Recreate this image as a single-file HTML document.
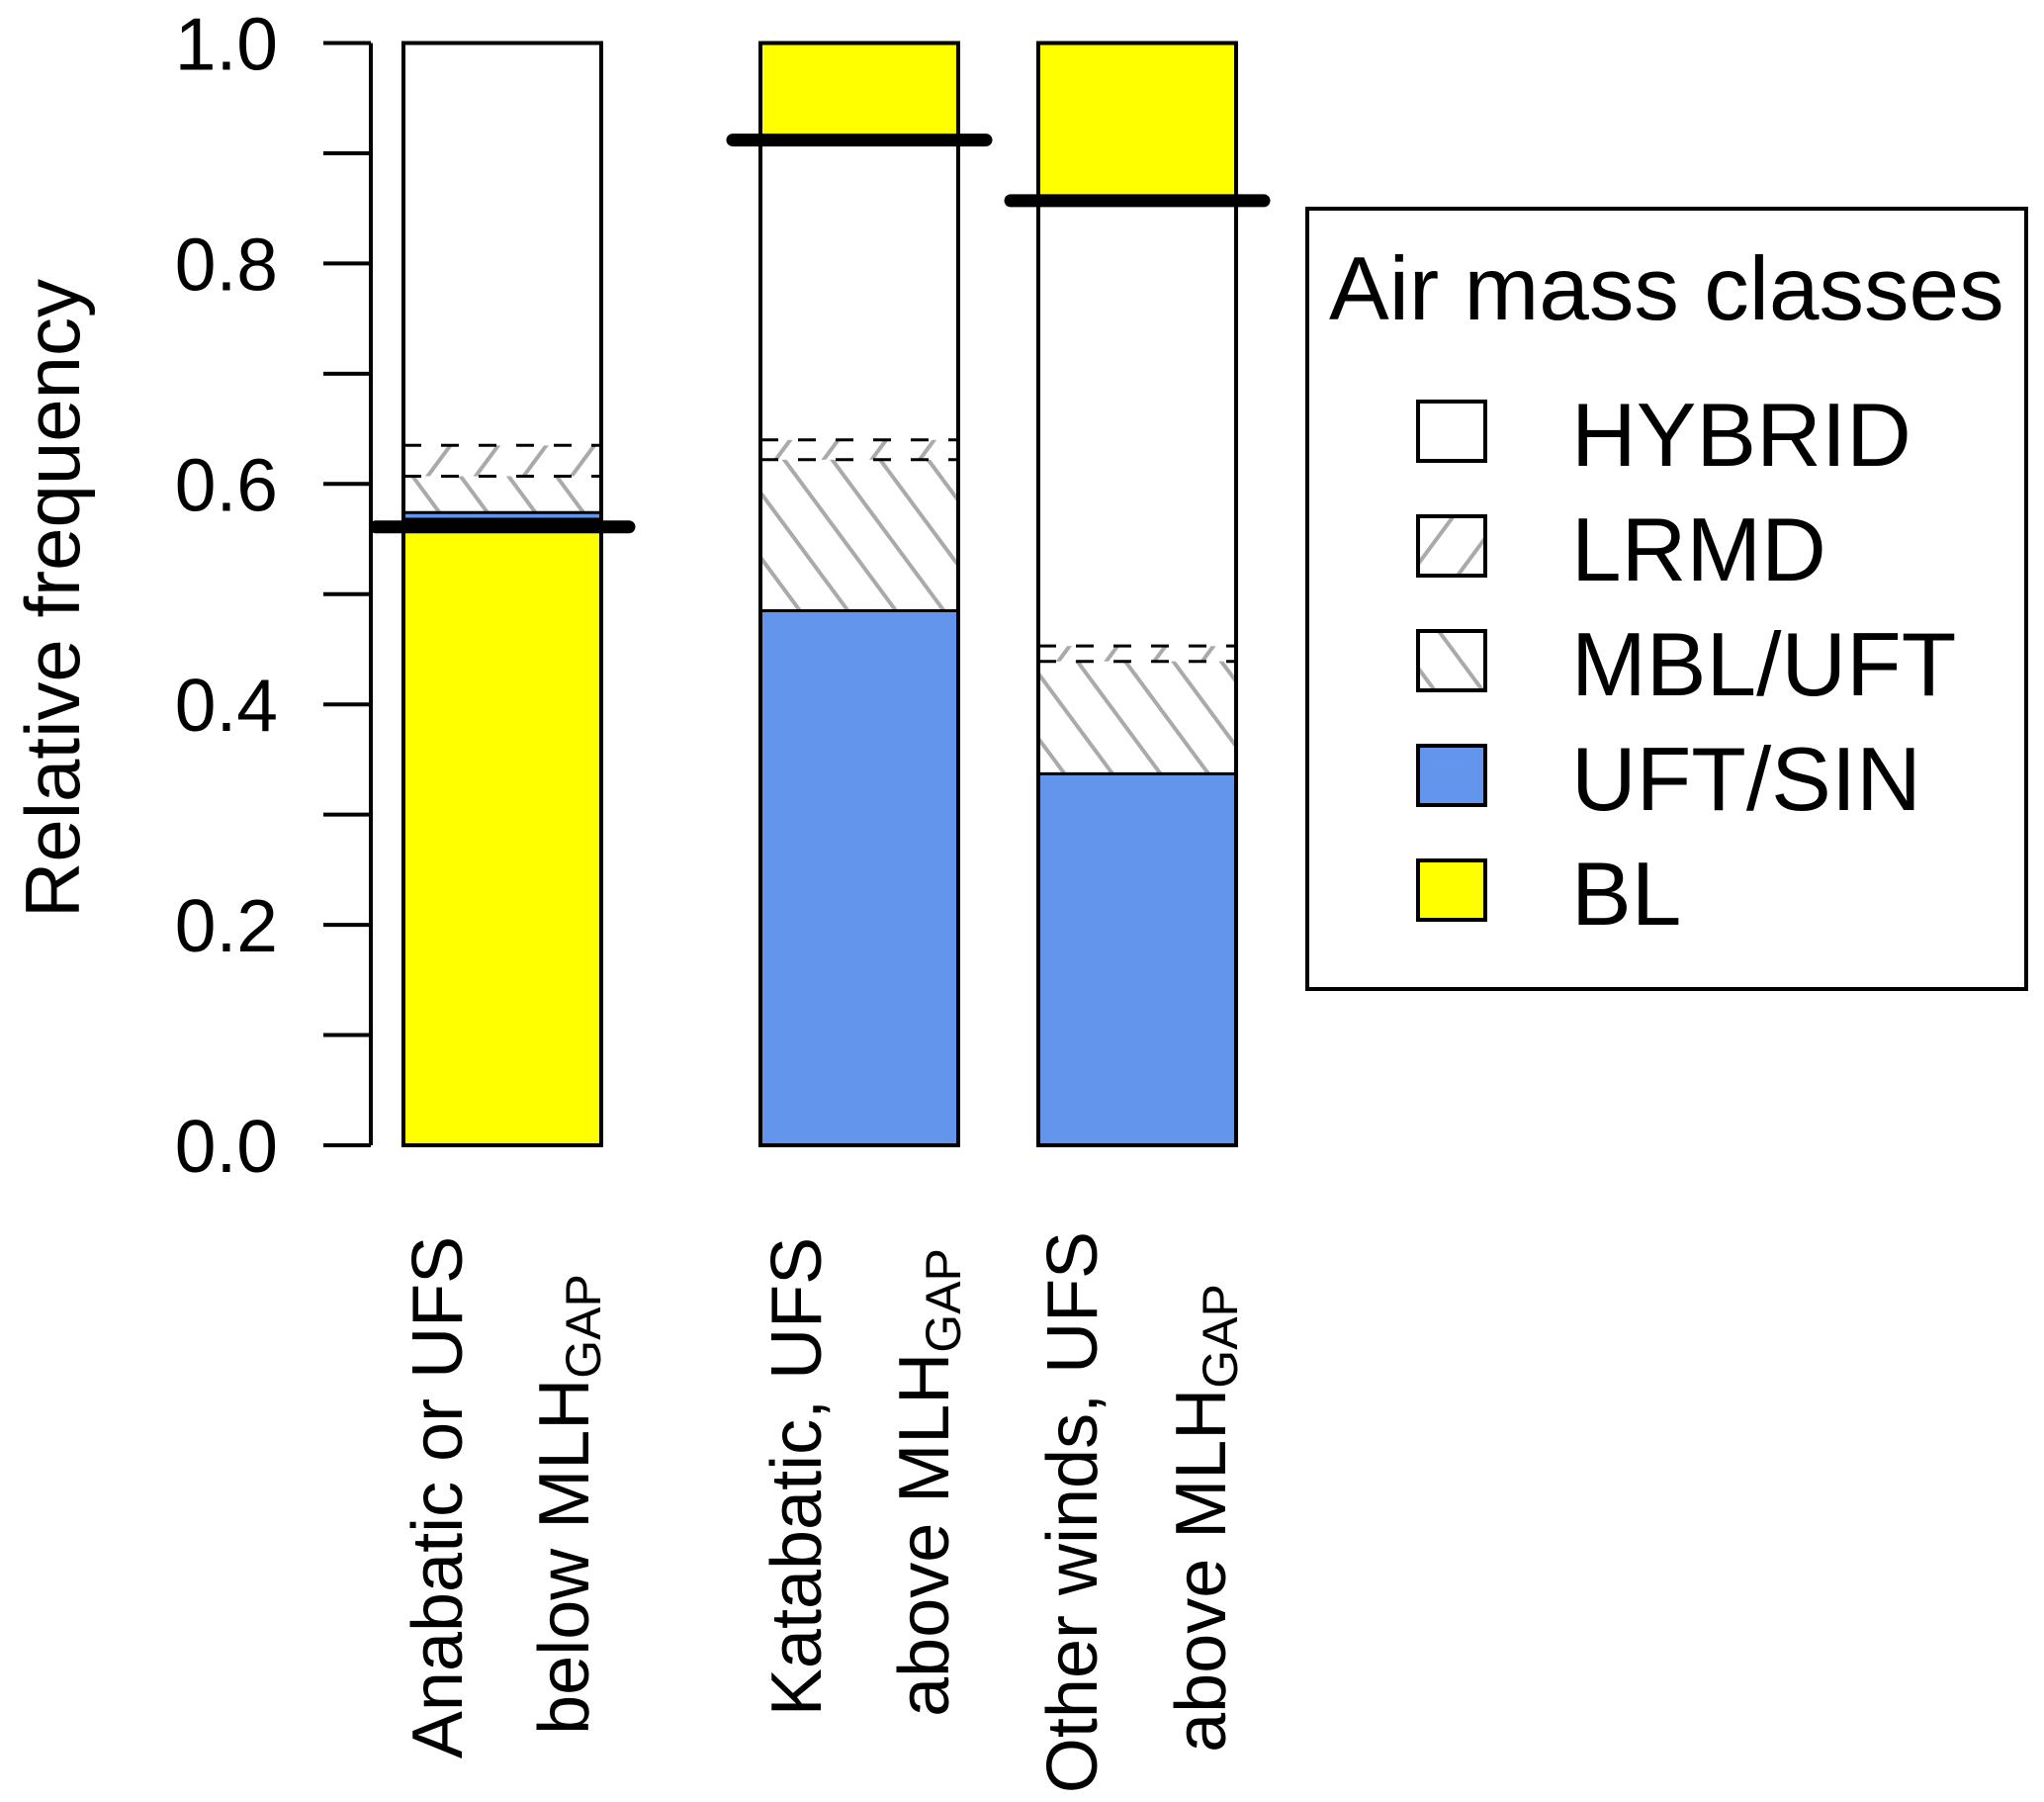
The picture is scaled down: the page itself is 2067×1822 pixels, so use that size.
<!DOCTYPE html>
<html><head><meta charset="utf-8"><style>
html,body{margin:0;padding:0;background:#fff}
svg{display:block;font-family:"Liberation Sans",Arial,sans-serif}
</style></head><body>
<svg id="chart" xmlns="http://www.w3.org/2000/svg" width="2067" height="1822" viewBox="0 0 2067 1822">
<defs>
<pattern id="hatchMBL" patternUnits="userSpaceOnUse" width="39" height="39" patternTransform="rotate(-36.5)">
<line x1="10" y1="0" x2="10" y2="39" stroke="#aaaaaa" stroke-width="4"/>
</pattern>
<pattern id="hatchLRMD" patternUnits="userSpaceOnUse" width="39" height="39" patternTransform="rotate(36.5)">
<line x1="10" y1="0" x2="10" y2="39" stroke="#aaaaaa" stroke-width="4"/>
</pattern>
</defs>
<g id="plot"></g>
<g id="legend"></g>
</svg>
<script>
const categories = ["Anabatic or UFS below MLH_GAP","Katabatic, UFS above MLH_GAP","Other winds, UFS above MLH_GAP"];
const blBottom = [0.568, 0.0, 0.0];   // BL segment at bottom (bar 1)
const uftSin = [0.006, 0.485, 0.337];
const mblUft = [0.033, 0.137, 0.102];
const lrmd = [0.028, 0.018, 0.014];
const blTop = [0.0, 0.088, 0.143];     // BL segment at top (bars 2,3)
const mlhLine = [0.561, 0.912, 0.857];
const yTicks = [0, 0.2, 0.4, 0.6, 0.8, 1.0];
const yTickLabels = ["0.0","0.2","0.4","0.6","0.8","1.0"];
const legendLabels = ["HYBRID","LRMD","MBL/UFT","UFT/SIN","BL"];

const NS="http://www.w3.org/2000/svg";
const Y0=1158, Y1=43.5;
function y(v){return Y0-(Y0-Y1)*v;}
const barLeft=[408,769,1050], barW=200;
function mk(tag,attrs,parent){const e=document.createElementNS(NS,tag);for(const k in attrs)e.setAttribute(k,attrs[k]);parent.appendChild(e);return e;}
const plot=document.getElementById('plot');

const ax=mk('line',{x1:375,y1:y(0),x2:375,y2:y(1),stroke:'#000','stroke-width':4},plot);


yTicks.forEach((t,i)=>{
  const tk=mk('line',{x1:327,y1:y(t),x2:375,y2:y(t),stroke:'#000','stroke-width':4},plot);
  
  
  const tl=mk('text',{x:281,y:y(t)+27,'font-size':75,'text-anchor':'end',fill:'#000'},plot);
  tl.textContent=yTickLabels[i];
  
  
});
for(let v=0.1;v<1;v+=0.2){
  const tk=mk('line',{x1:327,y1:y(v),x2:375,y2:y(v),stroke:'#000','stroke-width':4},plot);
  
  
}
const yt=mk('text',{x:0,y:0,'font-size':78,'text-anchor':'middle',transform:'translate(80,605) rotate(-90)',fill:'#000'},plot);
yt.textContent='Relative frequency';



categories.forEach((c,i)=>{
  const x=barLeft[i];
  let base=0;
  function seg(h,fill,name){
    if(h<=0)return;
    const r=mk('rect',{x:x,y:y(base+h),width:barW,height:y(base)-y(base+h),fill:fill,stroke:'none'},plot);
    
    
    base+=h;
  }
  seg(blBottom[i],'#ffff00','bar-bl');
  const uTop=base+uftSin[i];
  seg(uftSin[i],'#6495ed','bar-uft-sin');
  seg(mblUft[i],'url(#hatchMBL)','bar-mbl-uft');
  const lStart=base;
  seg(lrmd[i],'url(#hatchLRMD)','bar-lrmd');
  const lEnd=base;
  const hyb=1-base-blTop[i];
  seg(hyb,'#ffffff','bar-hybrid');
  seg(blTop[i],'#ffff00','bar-bl-top');
  const sl=mk('line',{x1:x,x2:x+barW,y1:y(uTop),y2:y(uTop),stroke:'#000','stroke-width':3},plot);
  
  
  if(blBottom[i]>0){
    const s0=mk('line',{x1:x,x2:x+barW,y1:y(blBottom[i]),y2:y(blBottom[i]),stroke:'#000','stroke-width':3},plot);
    
    
  }
  [lStart,lEnd].forEach(v=>{
    const d=mk('line',{x1:x,x2:x+barW,y1:y(v),y2:y(v),stroke:'#000','stroke-width':3,'stroke-dasharray':'18 20'},plot);
    
    
  });
  const o=mk('rect',{x:x,y:y(1),width:barW,height:y(0)-y(1),fill:'none',stroke:'#000','stroke-width':4},plot);
  
  
  const ml=mk('line',{x1:x-28,x2:x+barW+28,y1:y(mlhLine[i]),y2:y(mlhLine[i]),stroke:'#000','stroke-width':13,'stroke-linecap':'round'},plot);
  
  
});

const xl=[
 {x:442,cy:1514,t:'Anabatic or UFS',sub:false},
 {x:570,cy:1521,t:'below MLH',sub:true},
 {x:805,cy:1493,t:'Katabatic, UFS',sub:false},
 {x:934,cy:1499,t:'above MLH',sub:true},
 {x:1084,cy:1529,t:'Other winds, UFS',sub:false},
 {x:1214,cy:1535,t:'above MLH',sub:true}
];
xl.forEach(l=>{
  const t=mk('text',{x:0,y:0,'font-size':72,'text-anchor':'middle',transform:`translate(${l.x+25},${l.cy}) rotate(-90)`,fill:'#000'},plot);
  t.textContent=l.t;
  if(l.sub){const s=mk('tspan',{'font-size':50,dy:12},t);s.textContent='GAP';}
  
  
});

const lg=document.getElementById('legend');
const box=mk('rect',{x:1322,y:211,width:727,height:789,fill:'#fff',stroke:'#000','stroke-width':4},lg);


const ttl=mk('text',{x:1344,y:323,'font-size':91,fill:'#000'},lg);
ttl.textContent='Air mass classes';


const fills=['#ffffff','url(#hatchLRMD)','url(#hatchMBL)','#6495ed','#ffff00'];
legendLabels.forEach((lab,i)=>{
  const yy=406+i*116;
  const sw=mk('rect',{x:1434,y:yy,width:68,height:60,fill:fills[i],stroke:'#000','stroke-width':4},lg);
  
  
  const tx=mk('text',{x:1589,y:yy+65,'font-size':91,fill:'#000'},lg);
  tx.textContent=lab;
  
  
});
</script>
</body></html>
